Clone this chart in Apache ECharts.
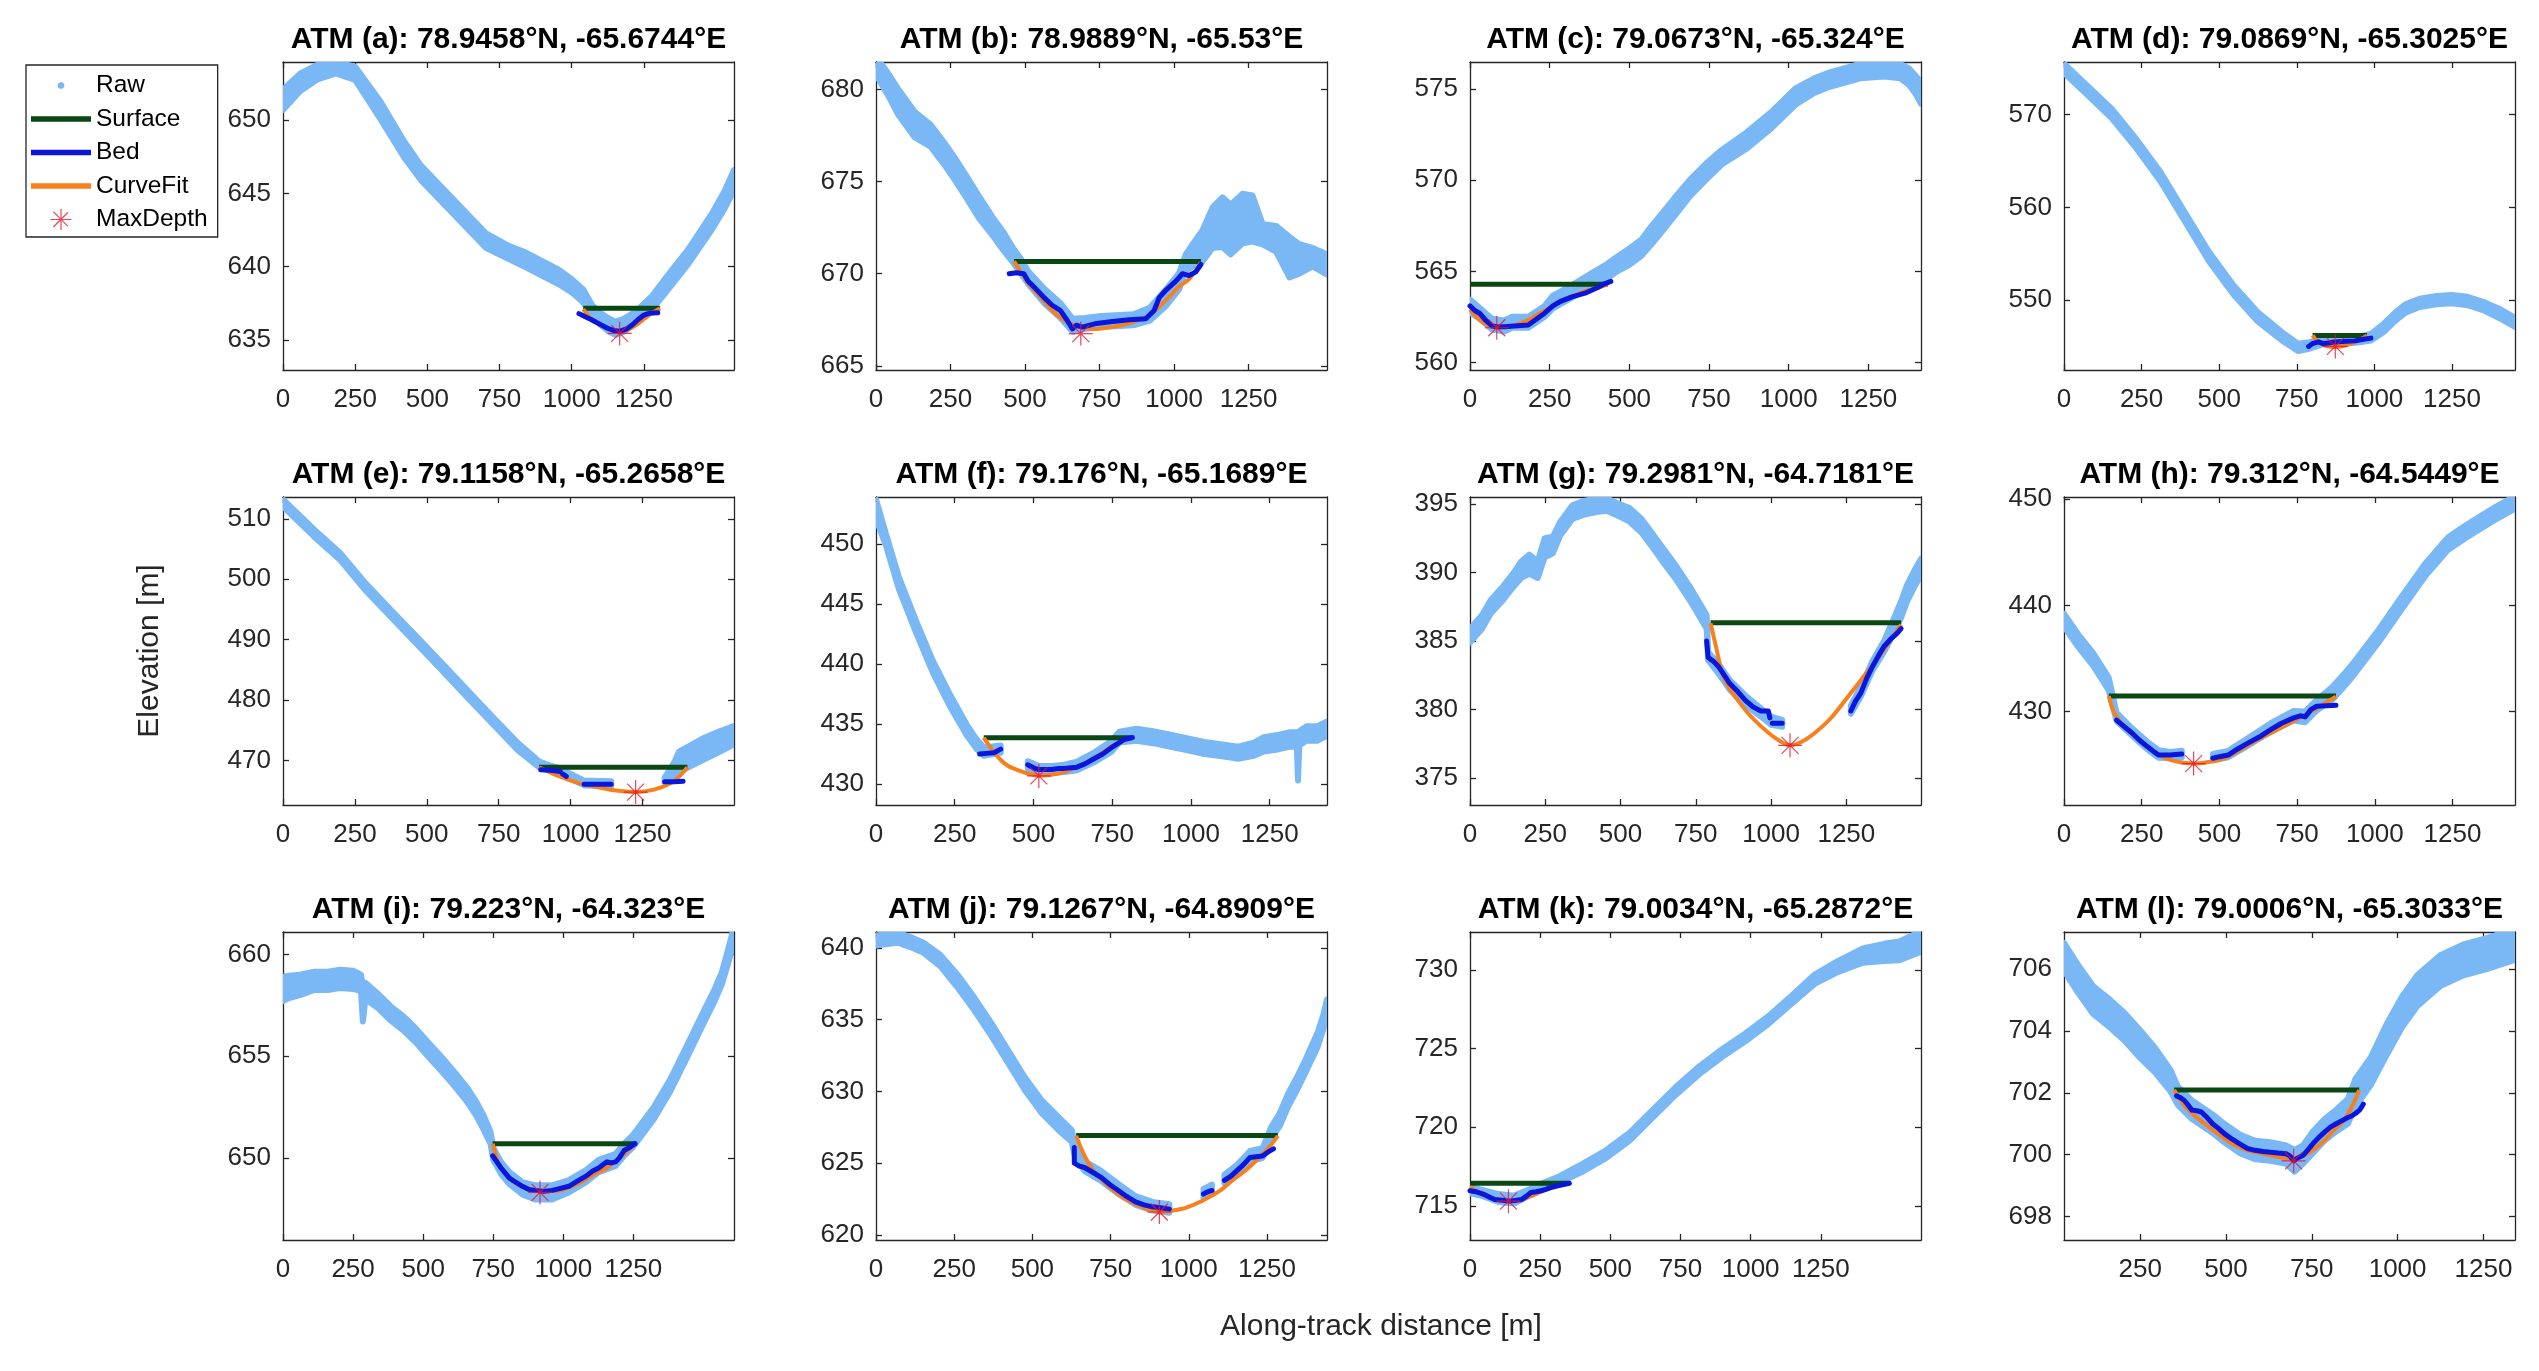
<!DOCTYPE html>
<html>
<head>
<meta charset="utf-8">
<title>ATM channel profiles</title>
<script src="https://cdn.jsdelivr.net/npm/echarts@6/dist/echarts.min.js"></script>
<style>
html, body { margin: 0; padding: 0; background: #fff; }
#charts { width: 2539px; height: 1371px; }
</style>
</head>
<body>
<div id="charts"></div>
<script>
// panel titles (a) .. (l)
var titles = [
	'ATM (a): 78.9458°N, -65.6744°E', 'ATM (b): 78.9889°N, -65.53°E',
	'ATM (c): 79.0673°N, -65.324°E', 'ATM (d): 79.0869°N, -65.3025°E',
	'ATM (e): 79.1158°N, -65.2658°E', 'ATM (f): 79.176°N, -65.1689°E',
	'ATM (g): 79.2981°N, -64.7181°E', 'ATM (h): 79.312°N, -64.5449°E',
	'ATM (i): 79.223°N, -64.323°E', 'ATM (j): 79.1267°N, -64.8909°E',
	'ATM (k): 79.0034°N, -65.2872°E', 'ATM (l): 79.0006°N, -65.3033°E'
];

// axis ranges (distance m, elevation m)
var xMin = [0, 0, 0, 0, 0, 0, 0, 0, 0, 0, 0, 28];
var xMax = [1562, 1513, 1415, 1453, 1568, 1432, 1498, 1451, 1609, 1442, 1607, 1342];
var yMin = [632.95, 664.77, 559.58, 542.46, 462.66, 428.25, 373.05, 421.2, 645.96, 619.65, 712.83, 697.24];
var yMax = [653.98, 681.5, 576.5, 575.67, 513.6, 453.9, 395.5, 450.2, 661.1, 641.1, 732.4, 707.2];

// tick labels
var xTicks = [0, 250, 500, 750, 1000, 1250];
var xTicksL = [250, 500, 750, 1000, 1250];
var yTicks = [
	[635, 640, 645, 650], [665, 670, 675, 680], [560, 565, 570, 575], [550, 560, 570],
	[470, 480, 490, 500, 510], [430, 435, 440, 445, 450], [375, 380, 385, 390, 395], [430, 440, 450],
	[650, 655, 660], [620, 625, 630, 635, 640], [715, 720, 725, 730], [698, 700, 702, 704, 706]
];

// raw ATM points: [distance, elevation, half spread of the point cloud], null = no returns
var raw = [
	[[0,651.4,0.7],[60,652.6,0.6],[120,653.3,0.5],[183,653.6,0.4],[250,653.2,0.45],[337,650.7,0.6],[420,648.0,0.55],[478,646.4,0.5],[590,644.1,0.5],[702,641.8,0.5],[780,641.0,0.45],[843,640.45,0.5],[955,639.3,0.5],[1000,638.7,0.45],[1040,638.0,0.45],[1070,637.0,0.4],[1096,636.5,0.4],[1130,636.0,0.45],[1152,635.8,0.45],[1180,636.0,0.45],[1210,636.4,0.4],[1236,636.8,0.4],[1280,637.6,0.45],[1320,638.6,0.5],[1404,640.7,0.5],[1489,643.2,0.55],[1530,644.6,0.6],[1562,645.9,0.7]],
	[[0,681.3,0.5],[40,680.3,0.6],[74,679.35,0.7],[130,678.1,0.7],[183,677.5,0.6],[230,676.5,0.6],[264,675.7,0.6],[300,674.8,0.6],[346,673.6,0.6],[390,672.6,0.5],[428,671.75,0.5],[460,671.0,0.4],[482,670.5,0.4],[510,669.8,0.35],[564,668.8,0.4],[619,668.0,0.4],[660,667.2,0.35],[700,667.3,0.3],[755,667.4,0.3],[864,667.5,0.3],[918,667.8,0.35],[973,668.7,0.45],[1017,669.6,0.45],[1039,670.6,0.45],[1062,671.0,0.6],[1095,671.5,0.85],[1129,672.5,1.1],[1162,672.8,1.35],[1190,672.4,1.35],[1230,673.0,1.35],[1263,673.0,1.25],[1297,672.15,0.55],[1342,671.9,0.7],[1387,670.9,1.1],[1420,670.8,0.8],[1465,670.9,0.5],[1513,670.5,0.55]],
	[[0,563.1,0.35],[30,562.7,0.3],[69,562.1,0.3],[107,562.0,0.3],[132,562.2,0.3],[183,562.2,0.3],[234,562.8,0.3],[259,563.3,0.35],[320,563.9,0.35],[386,564.6,0.35],[430,565.0,0.4],[462,565.4,0.4],[500,565.8,0.45],[538,566.3,0.45],[570,567.0,0.5],[589,567.4,0.5],[640,568.5,0.5],[691,569.6,0.45],[742,570.5,0.45],[792,571.3,0.4],[869,572.2,0.45],[945,573.3,0.45],[1021,574.6,0.45],[1080,575.2,0.4],[1123,575.5,0.4],[1224,576.0,0.4],[1300,576.1,0.4],[1350,576.0,0.4],[1377,575.7,0.45],[1400,575.2,0.5],[1415,574.8,0.6]],
	[[0,575.0,0.5],[76,572.6,0.5],[154,570.1,0.5],[232,566.9,0.5],[311,563.3,0.5],[389,559.0,0.5],[467,554.7,0.5],[546,551.1,0.5],[624,548.2,0.5],[702,546.1,0.45],[754,544.9,0.4],[790,545.1,0.35],[830,545.5,0.3],[885,545.6,0.3],[940,545.7,0.3],[989,546.0,0.35],[1030,547.0,0.45],[1067,548.2,0.45],[1100,549.1,0.45],[1146,549.7,0.45],[1200,550.0,0.45],[1250,550.1,0.45],[1300,549.9,0.45],[1355,549.3,0.45],[1400,548.6,0.5],[1453,547.6,0.5]],
	[[0,512.6,0.6],[109,507.6,0.6],[198,503.8,0.6],[286,498.8,0.6],[374,494.4,0.6],[463,490.0,0.6],[551,485.6,0.6],[640,481.1,0.6],[728,476.7,0.6],[817,472.3,0.6],[890,469.4,0.5],[930,468.7,0.45],[964,468.3,0.45],[1000,467.4,0.4],[1047,466.3,0.4],[1141,466.2,0.4],null,[1327,466.8,0.4],[1360,468.5,1.2],[1377,469.8,1.7],[1465,472.0,1.8],[1520,473.2,1.7],[1568,474.2,1.5]],
	[[0,452.9,0.8],[32,450.3,0.5],[73,446.7,0.5],[127,443.1,0.5],[180,439.8,0.5],[234,437.0,0.5],[288,434.5,0.45],[320,433.3,0.4],[342,432.7,0.35],[396,432.9,0.3],null,[482,431.6,0.3],[517,431.2,0.3],[558,431.2,0.3],[598,431.3,0.3],[638,431.5,0.35],[692,432.2,0.4],[746,433.1,0.45],[773,433.9,0.45],[827,434.1,0.5],[880,433.9,0.5],[935,433.6,0.5],[990,433.3,0.5],[1043,433.0,0.5],[1100,432.8,0.5],[1150,432.6,0.5],[1200,432.9,0.55],[1231,433.3,0.6],[1280,433.5,0.6],[1312,433.7,0.6],[1336,433.7,0.6],[1340,432.2,1.9],[1344,433.8,0.6],[1366,434.2,0.6],[1400,434.2,0.6],[1432,434.6,0.6]],
	[[0,385.4,0.5],[40,386.4,0.5],[69,387.5,0.5],[110,388.5,0.5],[146,389.5,0.5],[170,390.2,0.6],[197,390.6,0.7],[225,390.2,0.6],[248,391.8,0.7],[275,392.0,0.6],[300,393.2,0.5],[340,394.4,0.5],[376,394.7,0.5],[420,394.9,0.5],[453,394.95,0.45],[490,394.6,0.45],[530,394.2,0.5],[570,393.4,0.5],[607,392.3,0.5],[650,391.0,0.5],[684,390.0,0.5],[735,388.3,0.5],[770,387.0,0.5],[786,386.4,0.5],[791,383.9,0.3],[825,383.0,0.35],[863,381.8,0.35],[914,380.7,0.35],[966,379.8,0.3],[1000,379.2,0.3],[1037,379.0,0.25],null,[1265,380.0,0.3],[1298,381.3,0.35],[1337,383.2,0.35],[1375,384.6,0.4],[1401,385.8,0.5],[1432,387.3,0.6],[1452,388.5,0.6],[1475,389.5,0.6],[1498,390.4,0.6]],
	[[0,438.6,0.6],[45,436.7,0.6],[94,434.9,0.6],[144,432.6,0.6],[169,429.5,0.4],[218,428.1,0.35],[268,426.8,0.35],[305,426.0,0.35],[342,425.9,0.3],[379,426.0,0.3],null,[479,425.7,0.3],[528,426.0,0.3],[590,427.1,0.35],[665,428.5,0.4],[739,429.6,0.45],[776,429.5,0.5],[813,430.6,0.5],[863,431.7,0.6],[900,432.9,0.6],[937,434.2,0.6],[1012,437.1,0.6],[1086,440.2,0.6],[1161,443.3,0.6],[1235,445.8,0.6],[1290,446.9,0.6],[1334,447.7,0.6],[1390,448.7,0.6],[1446,449.6,0.6]],
	[[0,658.3,0.6],[21,658.4,0.55],[60,658.5,0.5],[112,658.7,0.45],[160,658.7,0.45],[203,658.8,0.45],[250,658.75,0.45],[278,658.6,0.4],[285,657.6,0.9],[294,658.2,0.4],[340,657.7,0.35],[384,657.1,0.35],[430,656.6,0.35],[475,656.0,0.35],[520,655.3,0.35],[566,654.6,0.35],[610,653.9,0.35],[657,653.1,0.35],[690,652.4,0.35],[717,651.7,0.35],[740,651.0,0.3],[750,650.2,0.3],[778,649.5,0.3],[808,649.0,0.3],[854,648.5,0.3],[899,648.3,0.35],[960,648.3,0.35],[1020,648.6,0.3],[1081,649.1,0.3],[1126,649.6,0.3],[1187,649.9,0.3],[1217,650.4,0.3],[1247,650.8,0.3],[1285,651.5,0.3],[1323,652.2,0.3],[1383,653.6,0.3],[1444,655.3,0.3],[1504,657.0,0.3],[1540,658.0,0.3],[1565,658.8,0.3],[1590,660.0,0.35],[1609,661.0,0.35]],
	[[0,640.5,0.35],[30,640.6,0.35],[70,640.7,0.35],[110,640.4,0.35],[152,640.0,0.35],[206,639.1,0.4],[260,637.7,0.45],[314,636.1,0.45],[369,634.3,0.45],[423,632.4,0.45],[477,630.5,0.45],[531,628.9,0.45],[586,627.7,0.45],[626,626.9,0.4],[634,626.0,0.4],[667,624.8,0.35],[721,624.1,0.35],[775,623.2,0.35],[830,622.4,0.3],[884,622.0,0.3],[938,621.85,0.3],null,[1047,622.9,0.3],[1074,623.2,0.3],null,[1114,623.9,0.3],[1155,624.6,0.3],[1196,625.5,0.35],[1236,625.7,0.35],[1263,627.1,0.4],[1290,628.0,0.45],[1318,629.4,0.45],[1345,630.5,0.45],[1372,631.7,0.45],[1412,633.6,0.5],[1430,634.8,0.5],[1442,635.9,0.5]],
	[[0,716.0,0.2],[47,715.8,0.2],[102,715.5,0.25],[157,715.4,0.25],[212,715.85,0.2],[266,716.3,0.2],[321,716.7,0.2],[404,717.45,0.25],[486,718.3,0.25],[569,719.4,0.25],[651,720.85,0.25],[733,722.3,0.25],[816,723.6,0.25],[898,724.7,0.25],[981,725.7,0.25],[1063,726.8,0.25],[1146,728.1,0.25],[1228,729.4,0.3],[1310,730.2,0.35],[1400,730.9,0.45],[1475,731.1,0.55],[1530,731.2,0.6],[1607,731.8,0.65]],
	[[28,706.4,0.45],[68,705.7,0.45],[113,705.0,0.45],[158,704.6,0.45],[203,704.15,0.45],[248,703.6,0.45],[293,703.06,0.4],[338,702.4,0.35],[360,701.9,0.3],[401,701.45,0.3],[461,701.0,0.3],[495,700.7,0.3],[540,700.35,0.3],[585,700.15,0.3],[630,700.1,0.3],[675,700.0,0.3],[700,699.8,0.35],[724,700.0,0.3],[753,700.4,0.35],[787,700.8,0.35],[821,701.1,0.35],[855,701.4,0.4],[877,702.0,0.45],[922,702.7,0.45],[967,703.7,0.5],[1012,704.6,0.5],[1057,705.3,0.5],[1124,705.95,0.5],[1192,706.3,0.5],[1259,706.5,0.5],[1342,706.8,0.5]]
];

// channel surface: [start distance, end distance, elevation]
var surface = [
	[1040,1306,637.16], [463,1090,670.67], [0,432,564.29], [801,976,546.18],
	[890,1406,468.9], [342,814,433.86], [799,1432,386.34], [144,875,431.47],
	[748,1256,650.69], [640,1285,626.93], [0,354,716.43], [349,888,702.09]
];

// picked bed: [distance, elevation], null = gap
var bed = [
	[[1025,636.8],[1045,636.6],[1067,636.4],[1095,636.1],[1124,635.8],[1145,635.65],[1166,635.6],[1190,635.75],[1208,636.0],[1230,636.4],[1250,636.7],[1264,636.8],[1280,636.85],[1298,636.86]],
	[[447,670.0],[470,670.05],[496,670.0],[510,669.6],[535,669.2],[564,668.7],[590,668.3],[619,668.0],[640,667.5],[659,667.0],[672,667.2],[692,667.1],[740,667.3],[793,667.4],[850,667.5],[905,667.55],[933,668.0],[950,668.7],[972,669.1],[1006,669.6],[1028,670.0],[1050,669.9],[1073,670.1],[1090,670.5]],
	[[0,563.1],[15,562.85],[30,562.7],[50,562.3],[69,562.0],[90,561.95],[107,561.95],[140,562.0],[183,562.05],[210,562.4],[234,562.7],[260,563.1],[284,563.35],[320,563.6],[361,563.8],[380,563.95],[399,564.1],[420,564.3],[442,564.45]],
	[[788,545.0],[800,545.3],[820,545.5],[835,545.3],[846,545.35],[865,545.45],[885,545.5],[910,545.55],[937,545.6],[960,545.75],[989,545.9]],
	[[896,468.5],[930,468.4],[964,468.2],null,[972,467.8],[985,467.4],null,[1047,466.1],[1100,466.1],[1141,466.1],null,[1327,466.5],[1360,466.5],[1391,466.6]],
	[[329,432.5],[350,432.55],[375,432.6],[396,432.9],null,[482,431.6],[500,431.35],[517,431.2],[540,431.2],[558,431.2],[580,431.3],[598,431.3],[620,431.35],[638,431.4],[665,431.7],[692,432.1],[720,432.5],[746,433.0],[770,433.4],[787,433.7],[814,433.86]],
	[[786,385.0],[791,383.8],[810,383.5],[825,383.15],[845,382.5],[863,381.9],[890,381.3],[914,380.7],[940,380.2],[966,379.9],[991,379.9],[996,379.4],null,[1004,379.0],[1037,379.0],null,[1265,379.9],[1280,380.6],[1298,381.2],[1318,382.3],[1337,383.15],[1356,383.9],[1375,384.6],[1400,385.2],[1420,385.6],[1432,385.9]],
	[[169,429.2],[193,428.6],[218,428.0],[243,427.3],[268,426.7],[290,426.2],[305,425.9],[325,425.9],[342,425.9],[360,425.95],[379,426.0],null,[479,425.6],[500,425.75],[528,425.9],[560,426.5],[590,427.0],[628,427.6],[665,428.3],[700,428.9],[739,429.4],[760,429.6],[776,429.5],[795,430.2],[813,430.5],[845,430.55],[875,430.6]],
	[[748,650.1],[763,649.8],[778,649.5],[793,649.25],[808,649.0],[830,648.8],[854,648.6],[876,648.45],[899,648.4],[930,648.35],[960,648.4],[990,648.5],[1020,648.6],[1050,648.85],[1081,649.1],[1105,649.35],[1126,649.5],[1145,649.7],[1156,649.8],[1170,649.75],[1187,649.8],[1200,650.0],[1217,650.36],[1235,650.5],[1256,650.7]],
	[[634,626.1],[634,625.0],[650,624.8],[667,624.7],[694,624.35],[721,624.0],[748,623.5],[775,623.1],[800,622.7],[830,622.3],[857,622.1],[884,621.96],[910,621.9],[938,621.8],null,[1047,622.85],[1060,623.0],[1074,623.1],null,[1114,623.8],[1135,624.1],[1155,624.5],[1175,624.9],[1196,625.4],[1215,625.45],[1236,625.5],[1255,625.8],[1271,626.0]],
	[[0,715.96],[20,715.9],[47,715.75],[70,715.55],[88,715.4],[115,715.35],[143,715.3],[165,715.35],[184,715.4],[200,715.6],[217,715.85],[235,715.9],[253,715.96],[270,716.05],[294,716.2],[320,716.3],[354,716.43]],
	[[356,701.9],[366,701.85],[378,701.76],[390,701.6],[401,701.44],[415,701.42],[428,701.38],[445,701.2],[461,701.0],[478,700.85],[495,700.68],[518,700.5],[540,700.35],[562,700.2],[585,700.14],[608,700.1],[630,700.08],[652,700.05],[675,700.03],[687,699.95],[697,699.8],[710,699.9],[724,699.97],[738,700.15],[753,700.35],[770,700.55],[787,700.73],[805,700.9],[821,701.0],[838,701.1],[855,701.2],[866,701.25],[877,701.33],[890,701.45],[900,701.63]]
];

// fitted channel curve
var fit = [
	[[1040,637.1],[1060,636.6],[1085,636.2],[1110,635.9],[1140,635.65],[1166,635.55],[1195,635.7],[1225,636.05],[1255,636.5],[1280,636.85],[1306,637.16]],
	[[463,670.67],[482,670.2],[510,669.5],[537,669.0],[564,668.5],[591,668.0],[620,667.6],[650,667.3],[690,667.1],[737,667.0],[790,667.1],[849,667.3],[917,667.75],[972,668.55],[1017,669.3],[1050,669.7],[1090,670.6]],
	[[0,562.9],[20,562.5],[45,562.15],[70,561.95],[90,561.9],[120,561.95],[160,562.15],[200,562.5],[250,563.0],[300,563.45],[350,563.85],[400,564.1],[432,564.29]],
	[[801,546.2],[815,545.6],[835,545.2],[855,545.0],[875,544.95],[900,545.05],[925,545.3],[950,545.65],[976,546.2]],
	[[890,468.9],[930,468.0],[964,467.35],[1020,466.4],[1082,465.7],[1150,465.1],[1229,464.8],[1290,465.2],[1347,466.25],[1380,467.5],[1406,468.9]],
	[[342,433.86],[370,432.8],[396,432.0],[420,431.5],[450,431.15],[485,430.85],[517,430.7],[550,430.75],[585,430.9],[625,431.25],[665,431.75],[705,432.35],[746,433.1],[780,433.55],[814,433.86]],
	[[799,386.3],[818,384.5],[837,382.7],[860,381.6],[889,380.7],[925,379.7],[966,378.8],[1010,378.0],[1063,377.4],[1105,377.7],[1145,378.3],[1195,379.3],[1247,380.7],[1300,382.2],[1350,383.6],[1395,385.0],[1432,386.2]],
	[[144,431.47],[160,430.0],[193,428.6],[230,427.6],[268,426.7],[305,425.9],[342,425.45],[380,425.2],[417,425.1],[465,425.25],[516,425.6],[565,426.35],[615,427.2],[680,428.2],[739,429.1],[800,430.1],[840,430.8],[875,431.4]],
	[[748,650.69],[770,649.7],[790,649.3],[808,649.0],[850,648.6],[899,648.4],[940,648.35],[990,648.4],[1040,648.65],[1080,648.95],[1111,649.2],[1160,649.55],[1202,650.0],[1230,650.35],[1256,650.69]],
	[[640,626.9],[665,625.6],[694,624.5],[720,623.9],[748,623.3],[790,622.6],[830,622.15],[870,621.8],[911,621.6],[950,621.7],[992,621.9],[1045,622.4],[1101,623.1],[1145,623.9],[1182,624.5],[1230,625.5],[1260,626.2],[1285,626.9]],
	[[0,716.2],[30,715.85],[60,715.6],[100,715.4],[137,715.3],[175,715.35],[215,715.6],[260,715.95],[300,716.2],[354,716.43]],
	[[349,702.09],[365,701.8],[383,701.54],[415,701.2],[450,700.9],[485,700.6],[518,700.35],[560,700.15],[608,700.03],[640,699.95],[675,699.9],[700,699.88],[732,700.0],[760,700.2],[787,700.46],[815,700.8],[843,701.1],[865,701.5],[888,702.09]]
];

// deepest point of each fit
var maxDepth = [
	[1166,635.45], [687,666.75], [84,561.9], [874,545.0],
	[1226,464.8], [517,430.67], [1063,377.4], [417,425.1],
	[917,648.3], [906,621.6], [137,715.3], [697,699.8]
];

var charts;
var FONT = "Arial, 'Liberation Sans', sans-serif";
var C_RAW = '#7ab8f5', C_SURF = '#0b4713', C_BED = '#0a16dc', C_FIT = '#f77f1c', C_MAX = '#e8152e';
var AXIS = '#262626';

// asterisk marker (filled arms so it also works as legend icon)
var STAR = 'M-0.6,-12H0.6V12H-0.6Z M-12,-0.6H12V0.6H-12Z M-8.08,-8.92L8.92,8.08L8.08,8.92L-8.92,-8.08Z M-8.92,8.08L8.08,-8.92L8.92,-8.08L-8.08,8.92Z';
// legend icons, padded to a 60x24 box with two invisible specks
var PAD = 'M0,0l0.01,0l0,0.01z M60,24l-0.01,0l0,-0.01z ';
var ICON_LINE = 'path://' + PAD + 'M0,9.2H60V14.8H0Z';
var ICON_DOT = 'path://' + PAD + 'M33.5,12L32.5,14.5L30,15.5L27.5,14.5L26.5,12L27.5,9.5L30,8.5L32.5,9.5Z';
var ICON_STAR = 'path://' + PAD + 'M29.4,1.5H30.6V22.5H29.4Z M19.5,11.4H40.5V12.6H19.5Z M22.7,3.8L37.2,18.3L36.4,19.1L21.9,4.6Z M21.9,19.1L36.4,4.6L37.2,5.4L22.7,19.9Z';

window.onload = function () {
	charts = echarts.init(document.getElementById('charts'));
	charts.setOption(buildOption());
};

function toLine(arr) {
	return arr.map(function (p) { return p ? p : ['-', '-']; });
}

function extend(a, b) {
	for (var k in b) a[k] = b[k];
	return a;
}

//raw cloud drawn as a band between elevation +/- spread
function bandRenderer(pts) {
	return function (params, api) {
		if (params.dataIndex !== 0) return;
		var children = [];
		var up = [], lo = [];
		function flush() {
			if (up.length > 1) {
				children.push({
					type: 'polygon',
					shape: { points: up.concat(lo.reverse()) },
					style: { fill: C_RAW, stroke: C_RAW, lineWidth: 6, lineJoin: 'round' }
				});
			}
			up = []; lo = [];
		}
		pts.forEach(function (p) {
			if (!p) { flush(); return; }
			up.push(api.coord([p[0], p[1] + p[2]]));
			lo.push(api.coord([p[0], p[1] - p[2]]));
		});
		flush();
		return { type: 'group', children: children };
	};
}

function buildOption() {
	var colLeft = [283, 876, 1470, 2064];
	var rowTop = [62, 497, 932];
	var W = 451, H = 308;
	var grid = [], xAxis = [], yAxis = [], series = [], title = [];

	for (var i = 0; i < 12; i++) {
		var left = colLeft[i % 4], top = rowTop[Math.floor(i / 4)];
		grid.push({ left: left, top: top, width: W, height: H, containLabel: false });
		title.push({
			text: titles[i], left: left + W / 2, top: top - 37, textAlign: 'center', padding: 0,
			textStyle: { fontFamily: FONT, fontSize: 30, fontWeight: 'bold', color: '#000' }
		});
		var xt = (i === 11) ? xTicksL : xTicks;
		var tickStyle = { show: true, inside: true, length: 6, lineStyle: { color: AXIS, width: 1.3 } };
		var lineStyle = { show: true, onZero: false, lineStyle: { color: AXIS, width: 1.3 } };
		xAxis.push({
			type: 'value', gridIndex: i, min: xMin[i], max: xMax[i], position: 'bottom',
			axisLine: lineStyle, splitLine: { show: false },
			axisTick: extend({ customValues: xt }, tickStyle),
			axisLabel: {
				customValues: xt, margin: 17, color: AXIS, fontSize: 26, fontFamily: FONT,
				formatter: function (v) { return String(v); }
			}
		});
		xAxis.push({
			type: 'value', gridIndex: i, min: xMin[i], max: xMax[i], position: 'top',
			axisLine: lineStyle, splitLine: { show: false },
			axisTick: extend({ customValues: xt }, tickStyle),
			axisLabel: { show: false }
		});
		var yl = {
			type: 'value', gridIndex: i, min: yMin[i], max: yMax[i], position: 'left',
			axisLine: lineStyle, splitLine: { show: false },
			axisTick: extend({ customValues: yTicks[i] }, tickStyle),
			axisLabel: {
				customValues: yTicks[i], margin: 12, color: AXIS, fontSize: 26, fontFamily: FONT,
				formatter: function (v) { return String(v); }
			}
		};
		if (i === 4) {
			yl.name = 'Elevation [m]';
			yl.nameLocation = 'middle';
			yl.nameRotate = 90;
			yl.nameGap = 118;
			yl.nameTextStyle = { fontFamily: FONT, fontSize: 30, color: AXIS };
		}
		yAxis.push(yl);
		yAxis.push({
			type: 'value', gridIndex: i, min: yMin[i], max: yMax[i], position: 'right',
			axisLine: lineStyle, splitLine: { show: false },
			axisTick: extend({ customValues: yTicks[i] }, tickStyle),
			axisLabel: { show: false }
		});

		var xi = 2 * i, yi = 2 * i;
		series.push({
			type: 'custom', name: 'Raw', xAxisIndex: xi, yAxisIndex: yi, clip: true, silent: true,
			itemStyle: { color: C_RAW },
			data: [[raw[i][0][0], raw[i][0][1]]],
			renderItem: bandRenderer(raw[i]),
			z: 1
		});
		series.push({
			type: 'line', name: 'Surface', xAxisIndex: xi, yAxisIndex: yi, silent: true,
			symbol: 'none', itemStyle: { color: C_SURF },
			lineStyle: { color: C_SURF, width: 5 },
			data: [[surface[i][0], surface[i][2]], [surface[i][1], surface[i][2]]],
			z: 2
		});
		series.push({
			type: 'line', name: 'CurveFit', xAxisIndex: xi, yAxisIndex: yi, silent: true,
			symbol: 'none', smooth: 0.3, itemStyle: { color: C_FIT },
			lineStyle: { color: C_FIT, width: 4 },
			data: fit[i],
			z: 3
		});
		series.push({
			type: 'line', name: 'Bed', xAxisIndex: xi, yAxisIndex: yi, silent: true,
			symbol: 'none', connectNulls: false, itemStyle: { color: C_BED },
			lineStyle: { color: C_BED, width: 5, cap: 'round', join: 'round' },
			data: toLine(bed[i]),
			z: 4
		});
		series.push({
			type: 'scatter', name: 'MaxDepth', xAxisIndex: xi, yAxisIndex: yi, silent: true,
			symbol: 'path://' + STAR, symbolSize: 24, itemStyle: { color: C_MAX },
			data: [maxDepth[i]],
			z: 5
		});
	}

	title.push({
		text: 'Along-track distance [m]', left: 1381, top: 1312, textAlign: 'center', padding: 0,
		textStyle: { fontFamily: FONT, fontSize: 30, fontWeight: 'normal', color: AXIS }
	});

	var noBorder = { borderWidth: 0 };
	return {
		animation: false,
		backgroundColor: '#fff',
		title: title,
		grid: grid,
		xAxis: xAxis,
		yAxis: yAxis,
		legend: {
			orient: 'vertical', left: 26, top: 65,
			padding: [8, 10, 5, 5],
			borderColor: AXIS, borderWidth: 1.3,
			itemWidth: 60, itemHeight: 24, itemGap: 8.5,
			symbolKeepAspect: true,
			selectedMode: false,
			textStyle: { fontFamily: FONT, fontSize: 24.5, color: '#000', lineHeight: 24 },
			data: [
				{ name: 'Raw', icon: ICON_DOT, itemStyle: noBorder },
				{ name: 'Surface', icon: ICON_LINE, itemStyle: noBorder },
				{ name: 'Bed', icon: ICON_LINE, itemStyle: noBorder },
				{ name: 'CurveFit', icon: ICON_LINE, itemStyle: noBorder },
				{ name: 'MaxDepth', icon: ICON_STAR, itemStyle: noBorder }
			]
		},
		series: series
	};
}
</script>
</body>
</html>
